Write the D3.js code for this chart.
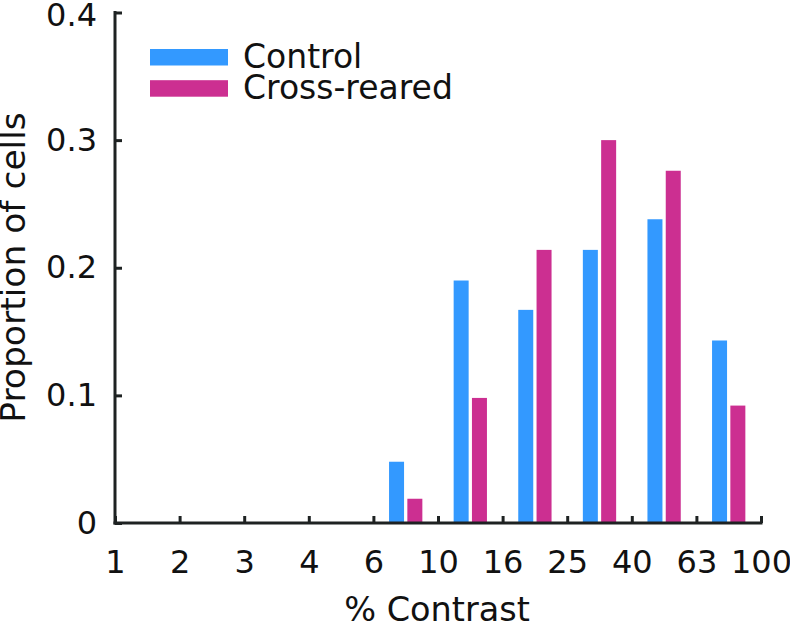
<!DOCTYPE html>
<html>
<head>
<meta charset="utf-8">
<script src="https://cdn.jsdelivr.net/npm/d3@7"></script>
<style>
  html, body { margin: 0; padding: 0; background: #fff; }
  svg { display: block; font-family: "DejaVu Sans", sans-serif; }
</style>
</head>
<body>
<svg id="chart" width="790" height="622"></svg>
<script>
// ---- data ----
const tickLabels = ["1", "2", "3", "4", "6", "10", "16", "25", "40", "63", "100"];
const binStarts = ["6", "10", "16", "25", "40", "63"]; // bins lie between successive ticks
const controlValues = [0.048, 0.190, 0.167, 0.214, 0.238, 0.143];
const crossValues   = [0.019, 0.098, 0.214, 0.300, 0.276, 0.092];
const seriesNames = ["Control", "Cross-reared"];
const seriesColors = ["#3399ff", "#cc2f91"];
const yTicks = [0, 0.1, 0.2, 0.3, 0.4];

const svg = d3.select("#chart");
const plotLeft = 115, plotRight = 761, plotTop = 12.5, plotBottom = 523;

const x = d3.scalePoint().domain(tickLabels).range([plotLeft, plotRight]);
const y = d3.scaleLinear().domain([0, 0.4]).range([plotBottom, plotTop]);
const step = x.step();
const barW = 15, barGap = 3.3;

const axisColor = "#1e2222";
const textColor = "#111";

// bars
const series = [controlValues, crossValues];
series.forEach((vals, si) => {
  svg.append("g").selectAll("rect").data(vals).join("rect")
    .attr("x", (d, i) => {
      const cx = x(binStarts[i]) + step / 2;
      return si === 0 ? cx - barGap / 2 - barW : cx + barGap / 2;
    })
    .attr("y", d => y(d))
    .attr("width", barW)
    .attr("height", d => y(0) - y(d))
    .attr("fill", seriesColors[si]);
});

// x axis
const xAxis = d3.axisBottom(x).tickSize(-7).tickSizeOuter(0);
const gx = svg.append("g").attr("transform", `translate(0,${y(0)})`).call(xAxis);
gx.select(".domain").attr("stroke", axisColor).attr("stroke-width", 3)
  .attr("d", `M${plotLeft - 1.5},0H${plotRight + 1.5}`);
gx.selectAll(".tick line").attr("stroke", axisColor).attr("stroke-width", 3);
gx.selectAll(".tick text").attr("font-size", 32).attr("fill", textColor)
  .attr("font-family", "DejaVu Sans").attr("y", 49.5).attr("dy", 0);

// y axis
const yAxis = d3.axisLeft(y).tickValues(yTicks).tickSize(-7).tickPadding(18)
  .tickFormat(d => d === 0 ? "0" : d3.format(".1f")(d)).tickSizeOuter(0);
const gy = svg.append("g").attr("transform", `translate(${plotLeft},0)`).call(yAxis);
gy.select(".domain").attr("stroke", axisColor).attr("stroke-width", 3)
  .attr("d", `M0,${y(0) + 1.5}V${y(0.4) - 1.5}`);
gy.selectAll(".tick line").attr("stroke", axisColor).attr("stroke-width", 3);
gy.selectAll(".tick text").attr("font-size", 32).attr("fill", textColor)
  .attr("font-family", "DejaVu Sans").attr("dy", 10)
  .attr("y", d => d === 0.4 ? 2.5 : 0);

// axis titles
svg.append("text").attr("x", 437).attr("y", 621)
  .attr("text-anchor", "middle").attr("font-size", 33.5).attr("fill", textColor)
  .text("% Contrast");
svg.append("text").attr("transform", `translate(25,267.5) rotate(-90)`)
  .attr("text-anchor", "middle").attr("font-size", 34.5).attr("fill", textColor)
  .text("Proportion of cells");

// legend
const lg = svg.append("g");
seriesNames.forEach((name, i) => {
  lg.append("rect").attr("x", 150).attr("y", 49 + i * 31.2).attr("width", 78).attr("height", 16.5)
    .attr("fill", seriesColors[i]);
  lg.append("text").attr("x", 243).attr("y", 68 + i * 30.5)
    .attr("font-size", 33).attr("fill", textColor).text(name);
});
</script>
</body>
</html>
